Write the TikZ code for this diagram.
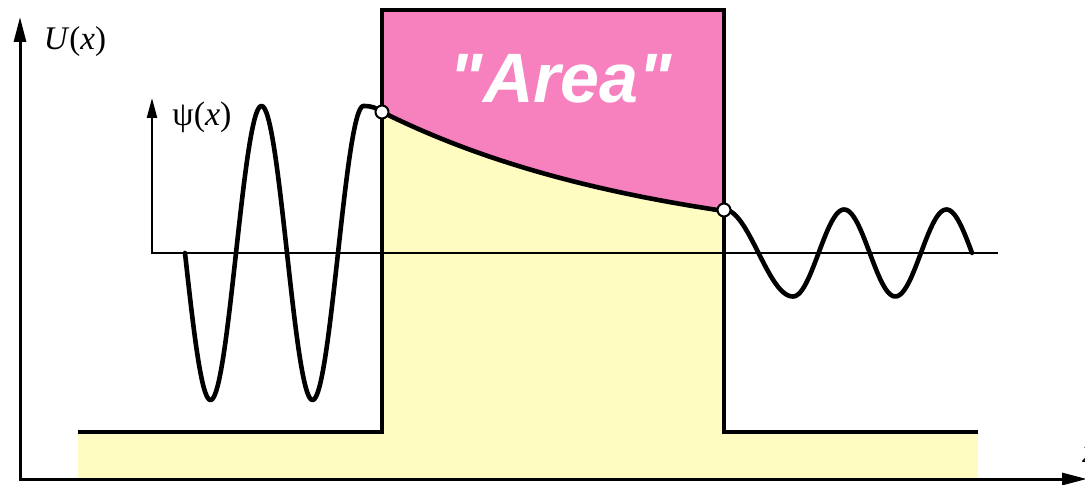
\documentclass[tikz,border=0pt]{standalone}
\usepackage{fontspec}
\setmainfont{Liberation Serif}
\newfontfamily\areafont{Liberation Sans}
\usetikzlibrary{arrows.meta}
\definecolor{pinkfill}{RGB}{247,128,190}
\definecolor{yellowfill}{RGB}{255,252,194}
\begin{document}
\begin{tikzpicture}[x=0.5pt,y=-0.5pt,
  axis/.style={line width=1.5pt, line join=miter},
  psiaxis/.style={line width=1.2pt, line join=miter},
  wave/.style={line width=2.3pt, line join=round, line cap=round},
  pot/.style={line width=2.3pt, line join=miter},
  dot/.style={circle, draw, fill=white, line width=1pt, minimum size=6.5pt, inner sep=0pt},
  lbl/.style={inner sep=0pt}]
\clip (0,0) rectangle (1085,485);
% fills
\fill[yellowfill] (78,432) rectangle (978,479);
\fill[yellowfill] (382,479) -- plot[domain=382:724,samples=60] (\x,{253-141*exp(-0.00354*(\x-382))}) -- (724,479) -- cycle;
\fill[pinkfill] (382,10) -- plot[domain=382:724,samples=60] (\x,{253-141*exp(-0.00354*(\x-382))}) -- (724,10) -- cycle;
% psi axes
\draw[psiaxis, -{Triangle[length=10pt,width=5pt]}] (998,253) -- (152,253) -- (152,98);
% potential
\draw[pot] (78,432) -- (382,432) -- (382,10) -- (724,10) -- (724,432) -- (978,432);
% barrier decay
\draw[wave] plot[domain=382:724,samples=60] (\x,{253-141*exp(-0.00354*(\x-382))});
% left wave
\draw[wave] plot[domain=185:363.5,samples=150] (\x,{253+147*sin(3.5294*(\x-185))}) .. controls (372,106) and (377,108) .. (381,112);
% right wave
\draw[wave] plot[domain=724:793,samples=40] (\x,{253-43.5*cos(2.6087*(\x-724))}) -- plot[domain=793:972,samples=100] (\x,{253+43.5*cos(3.5191*(\x-793))});
% junction dots
\node[dot] (cl) at (382,112) {};
\node[dot] (cr) at (724,210) {};
% labels
\node[lbl] (ulabel) at (75,42) {\fontsize{16.5}{19}\selectfont\textit{U}(\textit{x})};
\node[lbl] (psilabel) at (202,117) {\fontsize{17}{20}\selectfont ψ(\textit{x})};
\node[lbl, text=white] (area) at (561,79) {\areafont\bfseries\itshape\fontsize{35}{40}\selectfont "Area"};
\node[lbl] (xlabel) at (1090,455) {\fontsize{16.5}{19}\selectfont\textit{x}};
% main axes
\draw[axis, {Triangle[length=12.5pt,width=6pt]}-{Triangle[length=12.5pt,width=6pt]}] (20,17) -- (20,479) -- (1087,479);
\end{tikzpicture}
\end{document}
